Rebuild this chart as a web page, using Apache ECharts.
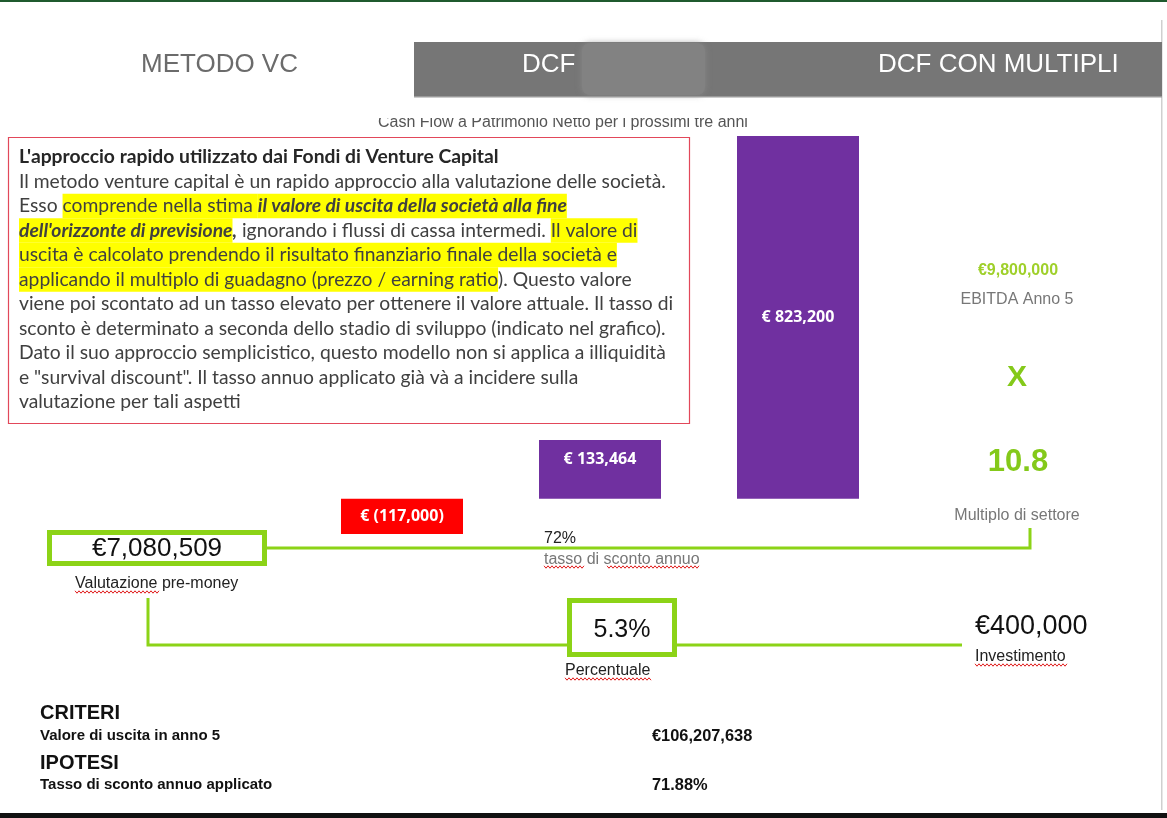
<!DOCTYPE html>
<html>
<head>
<meta charset="utf-8">
<script src="https://cdn.jsdelivr.net/npm/echarts@6/dist/echarts.min.js"></script>
<style>
html,body{margin:0;padding:0;background:#fff;}
#main{width:1167px;height:818px;}
</style>
</head>
<body>
<div id="main"></div>
<script>
// ---- data ----
const categories = ['Anno 1', 'Anno 2', 'Anno 3'];
const cashFlow = [-117000, 133464, 823200];
const barColors = ['#ff0000', '#7030a0', '#7030a0'];
const tabs = ['METODO VC', 'DCF', 'DCF CON MULTIPLI'];
const premoney = 7080509;
const percentuale = 5.3;
const investimento = 400000;
const tassoSconto = 72;
const ebitdaAnno5 = 9800000;
const multiploSettore = 10.8;
const valoreUscita = 106207638;
const tassoApplicato = 71.88;

const bodyLines = [
  [['b', "L'approccio rapido utilizzato dai Fondi di Venture Capital"]],
  [['n', 'Il metodo venture capital è un rapido approccio alla valutazione delle società.']],
  [['n', 'Esso '], ['h', 'comprende nella stima '], ['hbi', 'il valore di uscita della società alla fine']],
  [['hbi', "dell'orizzonte di previsione"], ['bi', ','], ['n', ' ignorando i flussi di cassa intermedi. '], ['h', 'Il valore di']],
  [['h', 'uscita è calcolato prendendo il risultato finanziario finale della società e']],
  [['h', 'applicando il multiplo di guadagno (prezzo / earning ratio'], ['n', '). Questo valore']],
  [['n', 'viene poi scontato ad un tasso elevato per ottenere il valore attuale. Il tasso di']],
  [['n', 'sconto è determinato a seconda dello stadio di sviluppo (indicato nel grafico).']],
  [['n', 'Dato il suo approccio semplicistico, questo modello non si applica a illiquidità']],
  [['n', 'e "survival discount". Il tasso annuo applicato già và a incidere sulla']],
  [['n', 'valutazione per tali aspetti']]
];

// ---- helpers ----
const fmt = v => Math.round(v).toLocaleString('en-US');
const GREEN = '#8cd317';
const BODY_FONT = 'Lato';
const BS = '19.3px ';
const AR = 'Liberation Sans, Arial, sans-serif';

function txt(x, y, text, o) {
  o = o || {};
  return {
    type: 'text', x: x, y: y, z: o.z || 10,
    style: {
      text: text, fill: o.color || '#222', font: (o.weight || 'normal') + ' ' + (o.size || 16) + 'px ' + (o.family || AR),
      align: o.align || 'left', verticalAlign: 'middle'
    }
  };
}
function squiggle(x1, x2, y) {
  const pts = [];
  let up = true;
  for (let x = x1; x <= x2; x += 2) { pts.push([x, up ? y - 1.2 : y + 1.2]); up = !up; }
  return { type: 'polyline', z: 11, shape: { points: pts }, style: { stroke: '#e01a1a', lineWidth: 1, fill: null } };
}
function line(points, w) {
  return { type: 'polyline', z: 5, shape: { points: points }, style: { stroke: GREEN, lineWidth: w || 3, fill: null } };
}

const rich = {
  n: { fill: '#404040', font: 'normal ' + BS + BODY_FONT, lineHeight: 24.5 },
  b: { fill: '#262626', font: 'bold ' + BS + BODY_FONT, lineHeight: 24.5 },
  h: { fill: '#404040', font: 'normal ' + BS + BODY_FONT, backgroundColor: '#ffff00', height: 24.5, lineHeight: 24.5 },
  hbi: { fill: '#404040', font: 'italic bold ' + BS + BODY_FONT, backgroundColor: '#ffff00', height: 24.5, lineHeight: 24.5 },
  bi: { fill: '#404040', font: 'italic bold ' + BS + BODY_FONT, lineHeight: 24.5 }
};

const graphics = [];
// top border and frame
graphics.push({ type: 'rect', z: 1, shape: { x: 0, y: 0, width: 1167, height: 2 }, style: { fill: '#1f5a2e' } });
graphics.push({ type: 'rect', z: 1, shape: { x: 0, y: 813, width: 1167, height: 5 }, style: { fill: '#111' } });
graphics.push({ type: 'rect', z: 1, shape: { x: 1161, y: 20, width: 1.5, height: 790 }, style: { fill: '#cfcfcf' } });
// tabs
graphics.push({ type: 'rect', z: 2, shape: { x: 414, y: 42, width: 748, height: 55 }, style: { fill: '#767676' } });
graphics.push({ type: 'rect', z: 3, shape: { x: 582, y: 43, width: 123, height: 52, r: 8 }, style: { fill: '#828282', shadowBlur: 6, shadowColor: 'rgba(140,140,140,0.8)' } });
graphics.push({ type: 'rect', z: 3, shape: { x: 414, y: 96, width: 748, height: 1.5 }, style: { fill: '#9a9a9a' } });
graphics.push(txt(141, 65, tabs[0], { size: 26, color: '#6b6b6b' }));
graphics.push(txt(522, 65, tabs[1], { size: 26, color: '#ffffff' }));
graphics.push(txt(878, 65, tabs[2], { size: 26, color: '#ffffff' }));
// chart title (top slightly clipped as in source)
graphics.push(txt(378, 123, 'Cash Flow a Patrimonio Netto per i prossimi tre anni', { size: 16, color: '#555' }));
graphics.push({ type: 'rect', z: 12, shape: { x: 370, y: 104, width: 390, height: 14 }, style: { fill: '#ffffff' } });

// text box
graphics.push({ type: 'rect', z: 6, shape: { x: 8.5, y: 137.5, width: 681, height: 286 }, style: { fill: '#ffffff', stroke: '#e2485a', lineWidth: 1.2 } });
bodyLines.forEach((segs, i) => {
  graphics.push({
    type: 'text', x: 19, y: 157 + i * 24.5, z: 8,
    style: {
      text: segs.map(s => '{' + s[0] + '|' + s[1] + '}').join(''),
      rich: rich, verticalAlign: 'middle', align: 'left'
    }
  });
});

// pre-money box & connectors
graphics.push(line([[267, 548], [1030, 548], [1030, 528]]));
graphics.push({ type: 'rect', z: 6, shape: { x: 49.5, y: 532.5, width: 215, height: 31 }, style: { fill: '#fff', stroke: GREEN, lineWidth: 5 } });
graphics.push(txt(157, 549, '€' + fmt(premoney), { size: 26, align: 'center', color: '#111' }));
graphics.push(txt(75, 584, 'Valutazione pre-money', { size: 16, color: '#222' }));
graphics.push(squiggle(75, 160, 592));

graphics.push(line([[148, 598], [148, 645], [567, 645]]));
graphics.push(line([[677, 645], [962, 645]]));
graphics.push({ type: 'rect', z: 6, shape: { x: 569.5, y: 600.5, width: 105, height: 54 }, style: { fill: '#fff', stroke: GREEN, lineWidth: 5 } });
graphics.push(txt(622, 630, percentuale + '%', { size: 25, align: 'center', color: '#111' }));
graphics.push(txt(565, 671, 'Percentuale', { size: 16, color: '#222' }));
graphics.push(squiggle(565, 651, 679));

graphics.push(txt(975, 627, '€' + fmt(investimento), { size: 27, color: '#111' }));
graphics.push(txt(975, 657, 'Investimento', { size: 16, color: '#222' }));
graphics.push(squiggle(975, 1068, 665));

graphics.push(txt(544, 539, tassoSconto + '%', { size: 16, color: '#222' }));
graphics.push(txt(544, 560, 'tasso di sconto annuo', { size: 16, color: '#777' }));
graphics.push(squiggle(544, 584, 567));
graphics.push(squiggle(607, 700, 567));

// right column
graphics.push(txt(1018, 271, '€' + fmt(ebitdaAnno5), { size: 16, weight: 'bold', align: 'center', color: '#9fd02a' }));
graphics.push(txt(1017, 300, 'EBITDA Anno 5', { size: 16, align: 'center', color: '#777' }));
graphics.push(txt(1017, 378, 'X', { size: 30, weight: 'bold', align: 'center', color: '#84c91a' }));
graphics.push(txt(1018, 462, String(multiploSettore), { size: 31, weight: 'bold', align: 'center', color: '#84c91a' }));
graphics.push(txt(1017, 516, 'Multiplo di settore', { size: 16, align: 'center', color: '#777' }));

// bottom criteria
graphics.push(txt(40, 713, 'CRITERI', { size: 20, weight: 'bold', color: '#111' }));
graphics.push(txt(40, 736, 'Valore di uscita in anno 5', { size: 15, weight: 'bold', color: '#111' }));
graphics.push(txt(652, 736, '€' + fmt(valoreUscita), { size: 16.4, weight: 'bold', color: '#111' }));
graphics.push(txt(40, 763, 'IPOTESI', { size: 20, weight: 'bold', color: '#111' }));
graphics.push(txt(40, 785, 'Tasso di sconto annuo applicato', { size: 15, weight: 'bold', color: '#111' }));
graphics.push(txt(652, 785, tassoApplicato.toFixed(2) + '%', { size: 16.4, weight: 'bold', color: '#111' }));

const labelPos = ['inside', 'insideTop', 'inside'];
const chart = echarts.init(document.getElementById('main'));
chart.setOption({
  backgroundColor: '#ffffff',
  animation: false,
  grid: { left: 303, right: 270, top: 133, bottom: 284 },
  xAxis: { type: 'category', data: categories, show: false },
  yAxis: { type: 'value', min: -80000, max: 830000, show: false, splitLine: { show: false } },
  series: [{
    type: 'bar',
    barWidth: 122,
    clip: true,
    data: cashFlow.map((v, i) => ({
      value: v,
      itemStyle: { color: barColors[i] },
      label: { position: labelPos[i], distance: 12 }
    })),
    label: {
      show: true, color: '#ffffff', fontWeight: 'bold', fontSize: 16, fontFamily: 'Open Sans',
      formatter: p => p.value < 0 ? '€ (' + fmt(-p.value) + ')' : '€ ' + fmt(p.value)
    }
  }],
  graphic: graphics
});
</script>
</body>
</html>
